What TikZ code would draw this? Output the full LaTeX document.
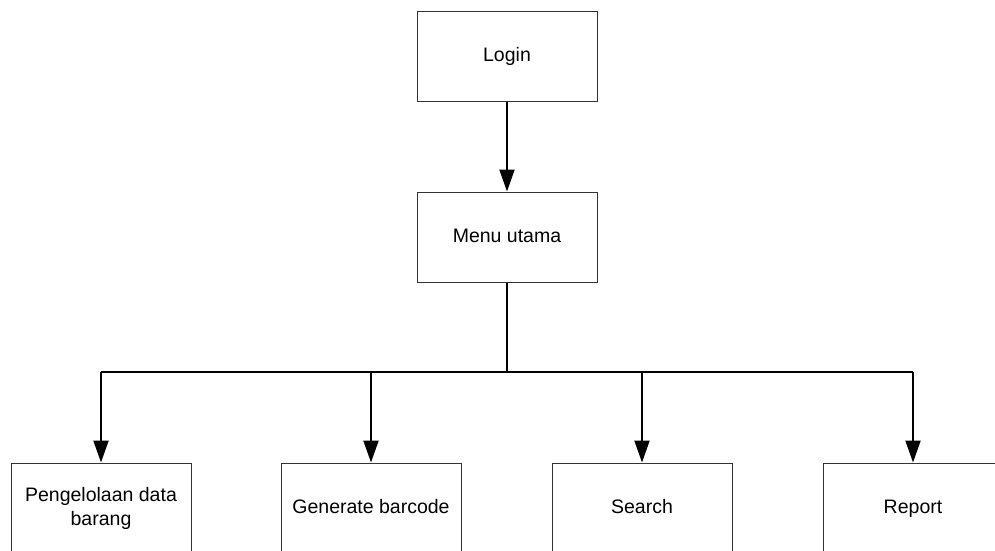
\documentclass[tikz,border=0pt]{standalone}
\usepackage{fontspec}
\setmainfont{Liberation Sans}
\usetikzlibrary{arrows.meta}
\begin{document}
\begin{tikzpicture}[x=1pt,y=-1pt,
  box/.style={draw=black!80,line width=1pt,minimum width=180pt,minimum height=90pt,
    inner sep=0pt,align=center,font=\fontsize{19.5}{24}\selectfont},
  oneline/.style={text height=14pt,text depth=4pt},
  flow/.style={line width=2pt,-{Triangle[length=22pt,width=15pt]}},
  link/.style={line width=2pt}]
\useasboundingbox (0,0) rectangle (995,550);
\clip (0,0) rectangle (995,550);
\fill[white] (0,0) rectangle (995,550);
% top chain
\node[box,oneline] (login) at (507,56) {Login};
\node[box,oneline] (menu) at (507,237) {Menu utama};
% four modules
\node[box] (m1) at (101,508) {Pengelolaan data\\barang};
\node[box,oneline] (m2) at (371,508) {Generate barcode};
\node[box,oneline] (m3) at (642,508) {Search};
\node[box,oneline] (m4) at (913,508) {Report};
% connectors
\draw[flow] (login.south) -- (menu.north);
\coordinate (hub) at (507,372);
\draw[link] (menu.south) -- (hub);
\draw[link] (m1.north |- hub) -- (m4.north |- hub);
\foreach \m in {m1,m2,m3,m4}
  \draw[flow] (\m.north |- hub) -- (\m.north);
\end{tikzpicture}
\end{document}
